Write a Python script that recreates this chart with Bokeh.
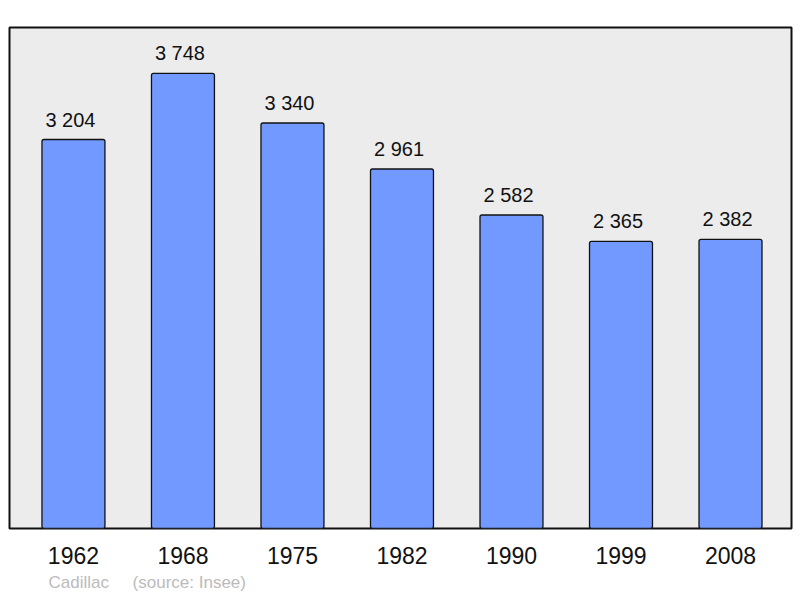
from bokeh.plotting import figure
from bokeh.models import ColumnDataSource, FixedTicker, Range1d, Title
from bokeh.core.properties import value
from bokeh.embed import file_html
from bokeh.resources import INLINE

years = ["1962", "1968", "1975", "1982", "1990", "1999", "2008"]
population = [3204, 3748, 3340, 2961, 2582, 2365, 2382]
labels = ["3 204", "3 748", "3 340", "2 961", "2 582", "2 365", "2 382"]
footer = "Cadillac\u00a0\u00a0\u00a0\u00a0\u00a0(source: Insee)"

idx = list(range(len(years)))
ymax = max(population) * 1.101

src = ColumnDataSource(dict(x=idx, pop=population, lab=labels))

p = figure(width=800, height=598, output_backend="svg", toolbar_location=None,
           x_range=Range1d(-0.584, 6.557), y_range=Range1d(0, ymax),
           y_axis_location=None, min_border_left=9, min_border_right=9,
           min_border_top=27, min_border_bottom=70)
p.background_fill_color = "#ececec"
p.border_fill_color = "white"
p.outline_line_color = "#111111"
p.outline_line_width = 2
p.xgrid.grid_line_color = None
p.ygrid.grid_line_color = None

p.vbar(x="x", top="pop", width=0.575, source=src, fill_color="#7299ff",
       line_color="#111111", line_width=1.3, border_radius=2)

p.text(x="x", y="pop", text="lab", source=src, y_offset=-20, x_offset=-3,
       text_align="center", text_baseline="alphabetic",
       text_font=value("Liberation Sans"), text_font_size="20px",
       text_color="#111111")

ax = p.xaxis[0]
ax.ticker = FixedTicker(ticks=idx)
ax.major_label_overrides = {i: y for i, y in zip(idx, years)}
ax.axis_line_color = None
ax.major_tick_line_color = None
ax.minor_tick_line_color = None
ax.major_tick_out = 0
ax.major_tick_in = 0
ax.major_label_standoff = 18
ax.major_label_text_font = "Liberation Sans"
ax.major_label_text_font_size = "23px"
ax.major_label_text_color = "#111111"

p.add_layout(Title(text=footer, align="left", offset=39,
                   text_font="Liberation Sans", text_font_size="17px",
                   text_font_style="normal", text_color="#bbbbbb",
                   standoff=8), "below")

open("out.html", "w").write(file_html(p, INLINE))
